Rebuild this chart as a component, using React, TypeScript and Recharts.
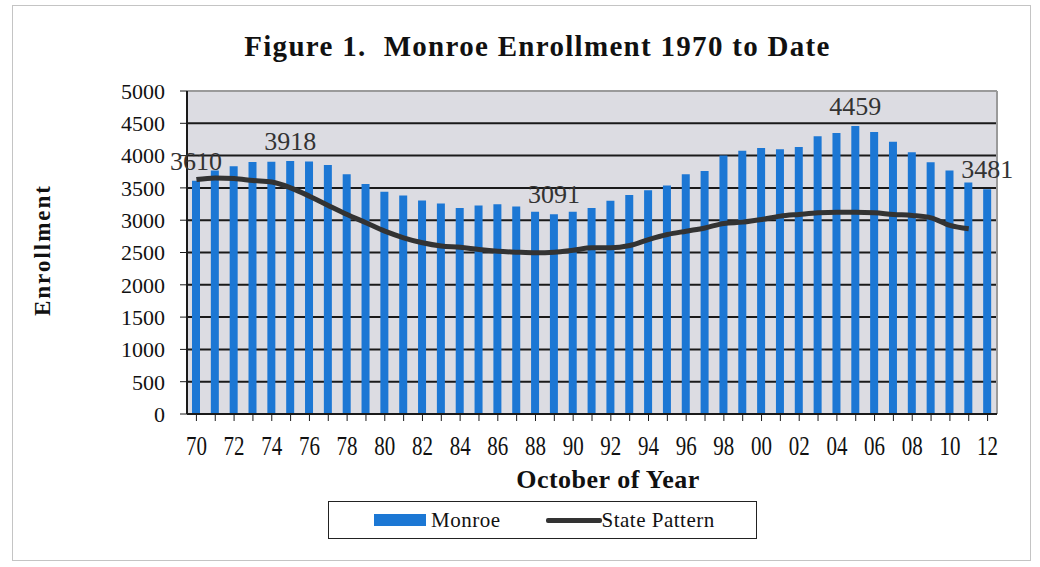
import React from "react";
import {
    ComposedChart,
    Bar,
    Line,
    XAxis,
    YAxis,
    CartesianGrid,
    LabelList,
} from "recharts";

const years = [
    "70", "71", "72", "73", "74", "75", "76", "77", "78", "79",
    "80", "81", "82", "83", "84", "85", "86", "87", "88", "89",
    "90", "91", "92", "93", "94", "95", "96", "97", "98", "99",
    "00", "01", "02", "03", "04", "05", "06", "07", "08", "09",
    "10", "11", "12",
];

const monroe = [
    3610, 3770, 3835, 3900, 3905, 3918, 3910, 3856, 3712, 3562,
    3439, 3382, 3305, 3258, 3188, 3227, 3248, 3212, 3130, 3091,
    3130, 3190, 3300, 3392, 3464, 3536, 3712, 3763, 4000, 4075,
    4118, 4097, 4134, 4299, 4350, 4459, 4366, 4216, 4052, 3897,
    3768, 3583, 3481,
];

const statePattern = [
    3630, 3655, 3645, 3615, 3590, 3500, 3372, 3228, 3088, 2960,
    2830, 2728, 2650, 2600, 2580, 2546, 2520, 2505, 2495, 2505,
    2536, 2572, 2572, 2608, 2700, 2778, 2830, 2880, 2950, 2970,
    3010, 3063, 3090, 3115, 3125, 3125, 3115, 3090, 3073, 3037,
    2920, 2868, null,
];

// years that get a value label above the bar
const labeledYears = ["70", "75", "89", "05", "12"];

const yTicks = [0, 500, 1000, 1500, 2000, 2500, 3000, 3500, 4000, 4500, 5000];

const data = years.map((year, i) => ({
    year,
    monroe: monroe[i],
    state: statePattern[i],
    label: labeledYears.includes(year) ? monroe[i] : undefined,
}));

const serif = '"Liberation Serif", "Times New Roman", serif';

// every other year gets a label; the scan's digits are tall and narrow
function YearTick({ x, y, payload, index }: any) {
    if (index % 2 !== 0) return <g />;
    return (
        <g transform={`translate(${x},${y})`}>
            <text
                textAnchor="middle"
                y={25}
                fill="#111"
                fontSize={21}
                fontFamily={serif}
                transform="scale(1,1.3)"
            >
                {payload.value}
            </text>
        </g>
    );
}

export default function App() {
    return (
        <div
            style={{
                position: "absolute",
                left: 0,
                top: 0,
                width: 1040,
                height: 567,
                background: "#ffffff",
                fontFamily: serif,
            }}
        >
            <div
                style={{
                    position: "absolute",
                    left: 12,
                    top: 5,
                    width: 1019,
                    height: 556,
                    boxSizing: "border-box",
                    border: "1.5px solid #c4c4c4",
                }}
            />

            <div
                style={{
                    position: "absolute",
                    top: 30,
                    left: 0,
                    width: 1075,
                    textAlign: "center",
                    fontSize: 29,
                    letterSpacing: 1.3,
                    fontWeight: "bold",
                    color: "#111",
                    whiteSpace: "pre",
                }}
            >
                {"Figure 1.  Monroe Enrollment 1970 to Date"}
            </div>

            <ComposedChart
                width={1040}
                height={567}
                data={data}
                margin={{ top: 91, right: 43, left: 117, bottom: 113 }}
                barCategoryGap={0}
                style={{ position: "absolute", left: 0, top: 0 }}
            >
                <CartesianGrid
                    vertical={false}
                    fill="#dcdce2"
                    fillOpacity={1}
                    stroke="#1a1a1a"
                    strokeWidth={2}
                />
                <CartesianGrid
                    horizontal={true}
                    vertical={true}
                    horizontalCoordinatesGenerator={({ offset }: any) => [offset.top]}
                    verticalCoordinatesGenerator={({ offset }: any) => [offset.left + offset.width]}
                    stroke="#9a9a9a"
                    strokeWidth={2}
                />
                <XAxis
                    dataKey="year"
                    interval={0}
                    height={40}
                    axisLine={{ stroke: "#1a1a1a", strokeWidth: 2 }}
                    tickLine={{ stroke: "#1a1a1a" }}
                    tickSize={7}
                    tickMargin={2}
                    tick={<YearTick />}
                />
                <YAxis
                    domain={[0, 5000]}
                    ticks={yTicks}
                    interval={0}
                    width={70}
                    axisLine={{ stroke: "#1a1a1a", strokeWidth: 2 }}
                    tickLine={{ stroke: "#1a1a1a" }}
                    tickSize={7}
                    tickMargin={15}
                    tick={{ fill: "#111", fontSize: 22, fontFamily: serif }}
                />
                <Bar
                    dataKey="monroe"
                    fill="#1c77d4"
                    barSize={8}
                    isAnimationActive={false}
                >
                    <LabelList
                        dataKey="label"
                        position="top"
                        offset={11}
                        fill="#333"
                        fontSize={26}
                        fontFamily={serif}
                    />
                </Bar>
                <Line
                    dataKey="state"
                    type="monotone"
                    stroke="#333333"
                    strokeWidth={5}
                    dot={false}
                    activeDot={false}
                    connectNulls={false}
                    isAnimationActive={false}
                />
            </ComposedChart>

            <div
                style={{
                    position: "absolute",
                    left: 43,
                    top: 250,
                    transform: "translate(-50%, -50%) rotate(-90deg)",
                    fontSize: 23,
                    letterSpacing: 2,
                    fontWeight: "bold",
                    color: "#111",
                    whiteSpace: "nowrap",
                }}
            >
                Enrollment
            </div>

            <div
                style={{
                    position: "absolute",
                    top: 465,
                    left: 608,
                    transform: "translateX(-50%)",
                    fontSize: 26,
                    letterSpacing: 0.5,
                    fontWeight: "bold",
                    color: "#111",
                    whiteSpace: "nowrap",
                }}
            >
                October of Year
            </div>

            <div
                style={{
                    position: "absolute",
                    left: 328,
                    top: 501,
                    width: 429,
                    height: 38,
                    boxSizing: "border-box",
                    border: "1.5px solid #222",
                    display: "flex",
                    alignItems: "center",
                    fontSize: 21,
                    letterSpacing: 0.5,
                    color: "#111",
                }}
            >
                <span style={{ display: "inline-block", width: 52, height: 12, background: "#1c77d4", marginLeft: 45 }} />
                <span style={{ marginLeft: 5 }}>Monroe</span>
                <span style={{ display: "inline-block", width: 56, height: 5, borderRadius: 2, background: "#333", marginLeft: 45 }} />
                <span style={{ marginLeft: 0 }}>State Pattern</span>
            </div>
        </div>
    );
}
